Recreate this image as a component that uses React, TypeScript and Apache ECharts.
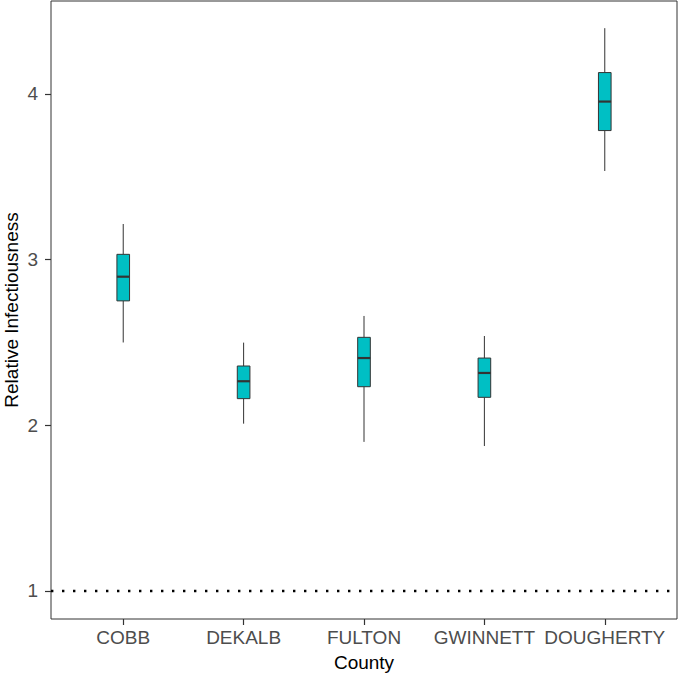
import React, { useEffect, useRef } from "react";
import * as echarts from "echarts";

const categories = ["COBB", "DEKALB", "FULTON", "GWINNETT", "DOUGHERTY"];
// [lower whisker, Q1, median, Q3, upper whisker]
const lowerWhisker = [2.5, 2.01, 1.9, 1.875, 3.535];
const q1 = [2.751, 2.161, 2.233, 2.169, 3.779];
const median = [2.897, 2.266, 2.406, 2.316, 3.954];
const q3 = [3.032, 2.358, 2.531, 2.406, 4.129];
const upperWhisker = [3.215, 2.499, 2.66, 2.539, 4.397];
const yTicks = [1, 2, 3, 4];
const referenceLevel = 1;

const FONT = "'Liberation Sans', Arial, Helvetica, sans-serif";

export default function App() {
  const ref = useRef<HTMLDivElement>(null);
  useEffect(() => {
    if (!ref.current) return;
    const chart = echarts.init(ref.current, undefined, { renderer: "svg" });
    const xMin = -0.6;
    const xMax = categories.length - 1 + 0.6;
    const boxData = categories.map((_, i) => [
      i,
      lowerWhisker[i],
      q1[i],
      median[i],
      q3[i],
      upperWhisker[i],
    ]);
    const option = {
      animation: false,
      grid: {
        left: 51,
        right: 1,
        top: 1,
        bottom: 58,
        containLabel: false,
        outerBoundsMode: "none",
        show: true,
        borderColor: "#333333",
        borderWidth: 1,
        backgroundColor: "transparent",
      },
      xAxis: {
        type: "value",
        min: xMin,
        max: xMax,
        name: "County",
        nameLocation: "middle",
        nameGap: 34,
        nameTextStyle: { color: "#000", fontSize: 19, fontFamily: FONT },
        axisLine: { show: false, onZero: false },
        splitLine: { show: false },
        axisTick: {
          show: true,
          length: 6,
          customValues: categories.map((_, i) => i),
          lineStyle: { color: "#333333", width: 1.2 },
        },
        axisLabel: {
          customValues: categories.map((_, i) => i),
          formatter: (v: number) => categories[Math.round(v)] ?? "",
          color: "#4D4D4D",
          fontSize: 19,
          fontFamily: FONT,
          margin: 9,
        },
      },
      yAxis: {
        type: "value",
        min: 0.831,
        max: 4.561,
        name: "Relative Infectiousness",
        nameLocation: "middle",
        nameGap: 30,
        nameMoveOverlap: false,
        nameTextStyle: { color: "#000", fontSize: 19, fontFamily: FONT },
        axisLine: { show: false, onZero: false },
        splitLine: { show: false },
        axisTick: {
          show: true,
          length: 6,
          customValues: yTicks,
          lineStyle: { color: "#333333", width: 1.2 },
        },
        axisLabel: {
          customValues: yTicks,
          color: "#4D4D4D",
          fontSize: 19,
          fontFamily: FONT,
          margin: 13,
        },
      },
      series: [
        {
          type: "line",
          data: [
            [xMin, referenceLevel],
            [xMax, referenceLevel],
          ],
          symbol: "none",
          silent: true,
          lineStyle: { color: "#000", width: 2.4, type: [2.4, 8.6] },
          z: 1,
        },
        {
          type: "custom",
          data: boxData,
          z: 3,
          renderItem: (params: any, api: any) => {
            const x = api.value(0);
            const pLo = api.coord([x, api.value(1)]);
            const pQ1 = api.coord([x, api.value(2)]);
            const pMed = api.coord([x, api.value(3)]);
            const pQ3 = api.coord([x, api.value(4)]);
            const pHi = api.coord([x, api.value(5)]);
            const w = api.size([0.105, 0])[0];
            const cx = pMed[0];
            return {
              type: "group",
              children: [
                {
                  type: "line",
                  shape: { x1: cx, y1: pLo[1], x2: cx, y2: pQ1[1] },
                  style: { stroke: "#333333", lineWidth: 1 },
                },
                {
                  type: "line",
                  shape: { x1: cx, y1: pQ3[1], x2: cx, y2: pHi[1] },
                  style: { stroke: "#333333", lineWidth: 1 },
                },
                {
                  type: "rect",
                  shape: {
                    x: cx - w / 2,
                    y: pQ3[1],
                    width: w,
                    height: pQ1[1] - pQ3[1],
                  },
                  style: { fill: "#00BFC4", stroke: "#333333", lineWidth: 1 },
                },
                {
                  type: "line",
                  shape: { x1: cx - w / 2, y1: pMed[1], x2: cx + w / 2, y2: pMed[1] },
                  style: { stroke: "#333333", lineWidth: 2.2 },
                },
              ],
            };
          },
        },
      ],
    };
    chart.setOption(option as any);
    return () => chart.dispose();
  }, []);
  return (
    <div
      ref={ref}
      style={{ position: "fixed", left: 0, top: 0, width: 678, height: 677, background: "#fff" }}
    />
  );
}
